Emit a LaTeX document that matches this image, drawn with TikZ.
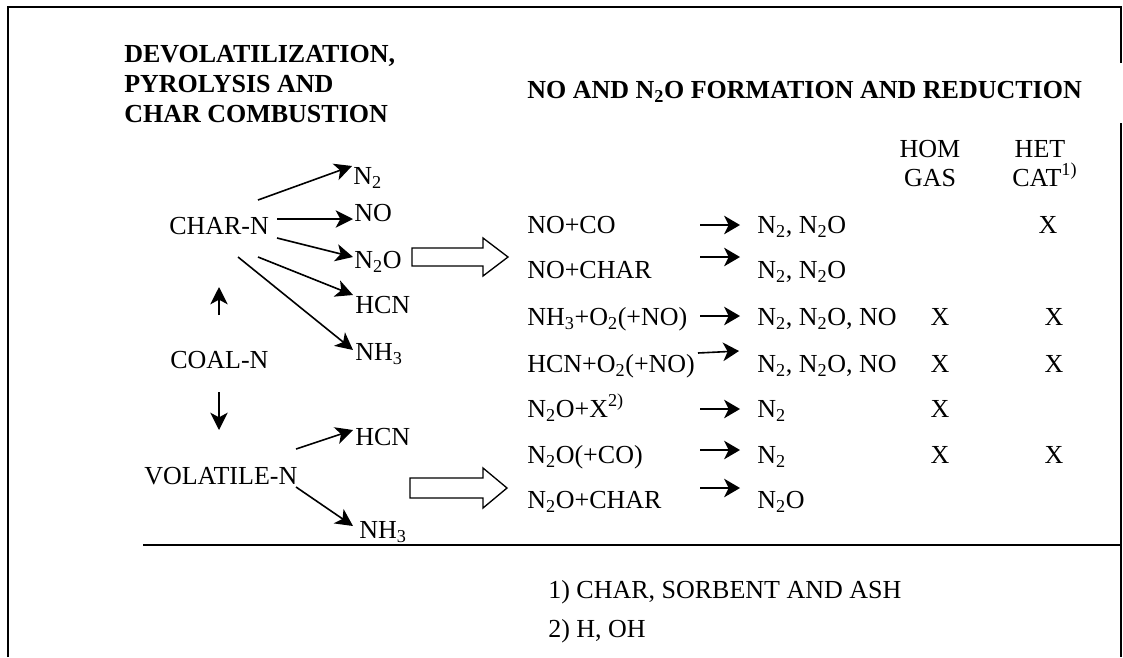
\documentclass[tikz,border=0pt]{standalone}
\usepackage{fontspec}
\setmainfont{Liberation Serif}
\usetikzlibrary{arrows.meta}
\begin{document}
\begin{tikzpicture}[x=0.75pt,y=-0.75pt,
  txt/.style={anchor=base west,inner sep=0pt,font=\fontsize{19.5}{23}\selectfont},
  ctxt/.style={txt,anchor=base},
  hd/.style={txt,font=\fontsize{19.5}{23}\selectfont\bfseries},
  frame/.style={line width=1.4pt},
  arr/.style={line width=1.2pt,-{Stealth[length=13pt,width=13pt,inset=3.5pt]}},
  rarr/.style={line width=1.2pt,-{Stealth[length=12pt,width=14pt,inset=3.5pt]}},
  hollow/.style={draw,line width=1pt,fill=white,line join=miter}]
\useasboundingbox (0,0) rectangle (1123,657);
% frame
\coordinate (f1) at (8,657); \coordinate (f2) at (8,7); \coordinate (f3) at (1121,7); \coordinate (f4) at (1121,63);
\coordinate (f5) at (1121,123); \coordinate (f6) at (1121,657);
\coordinate (h1) at (143,545); \coordinate (h2) at (1121,545);
\draw[frame] (f1) -- (f2) -- (f3) -- (f4);
\draw[frame] (f5) -- (f6);
\draw[frame] (h1) -- (h2);
% headings
\node[hd] (hd1) at (124,62) {DEVOLATILIZATION,};
\node[hd] (hd2) at (124,92) {PYROLYSIS AND};
\node[hd] (hd3) at (124,122) {CHAR COMBUSTION};
\node[hd] (hd4) at (527,98) {NO AND N\textsubscript{2}O FORMATION AND REDUCTION};
\node[ctxt] (hom) at (930,157) {HOM};
\node[ctxt] (gas) at (930,186) {GAS};
\node[ctxt] (het) at (1040,157) {HET};
\node[txt] (cat) at (1012,186) {CAT\textsuperscript{1)}};
% left diagram
\node[txt] (charn) at (169,234) {CHAR-N};
\node[txt] (cn2) at (353,184) {N\textsubscript{2}};
\node[txt] (cno) at (354,221) {NO};
\node[txt] (cn2o) at (354,268) {N\textsubscript{2}O};
\node[txt] (chcn) at (355,313) {HCN};
\node[txt] (cnh3) at (355,360) {NH\textsubscript{3}};
\node[txt] (coaln) at (170,368) {COAL-N};
\node[txt] (voln) at (144,484) {VOLATILE-N};
\node[txt] (vhcn) at (355,445) {HCN};
\node[txt] (vnh3) at (359,538) {NH\textsubscript{3}};
\coordinate (a1s) at (258,200); \coordinate (a1e) at (352,166);
\coordinate (a2s) at (277,219); \coordinate (a2e) at (353,219);
\coordinate (a3s) at (277,238); \coordinate (a3e) at (353,257);
\coordinate (a4s) at (258,257); \coordinate (a4e) at (353,295);
\coordinate (a5s) at (238,257); \coordinate (a5e) at (353,350);
\coordinate (u1s) at (219,315); \coordinate (u1e) at (219,287);
\coordinate (d1s) at (219,392); \coordinate (d1e) at (219,430);
\coordinate (v1s) at (296,449); \coordinate (v1e) at (353,430);
\coordinate (v2s) at (296,487); \coordinate (v2e) at (353,526);
\draw[arr] (a1s) -- (a1e);
\draw[arr] (a2s) -- (a2e);
\draw[arr] (a3s) -- (a3e);
\draw[arr] (a4s) -- (a4e);
\draw[arr] (a5s) -- (a5e);
\draw[arr] (u1s) -- (u1e);
\draw[arr] (d1s) -- (d1e);
\draw[arr] (v1s) -- (v1e);
\draw[arr] (v2s) -- (v2e);
% hollow arrows
\draw[hollow] (412,248) -- (483,248) -- (483,238) -- (508,257) -- (483,276) -- (483,266) -- (412,266) -- cycle;
\draw[hollow] (410,478) -- (483,478) -- (483,468) -- (507,488) -- (483,508) -- (483,498) -- (410,498) -- cycle;
% reactions
\node[txt] (r1) at (527,233) {NO+CO};
\node[txt] (p1) at (757,233) {N\textsubscript{2}, N\textsubscript{2}O};
\node[ctxt] (x1b) at (1048,233) {X};
\node[txt] (r2) at (527,278) {NO+CHAR};
\node[txt] (p2) at (757,278) {N\textsubscript{2}, N\textsubscript{2}O};
\node[txt] (r3) at (527,325) {NH\textsubscript{3}+O\textsubscript{2}(+NO)};
\node[txt] (p3) at (757,325) {N\textsubscript{2}, N\textsubscript{2}O, NO};
\node[ctxt] (x3a) at (940,325) {X};
\node[ctxt] (x3b) at (1054,325) {X};
\node[txt] (r4) at (527,372) {HCN+O\textsubscript{2}(+NO)};
\node[txt] (p4) at (757,372) {N\textsubscript{2}, N\textsubscript{2}O, NO};
\node[ctxt] (x4a) at (940,372) {X};
\node[ctxt] (x4b) at (1054,372) {X};
\node[txt] (r5) at (527,417) {N\textsubscript{2}O+X\textsuperscript{2)}};
\node[txt] (p5) at (757,417) {N\textsubscript{2}};
\node[ctxt] (x5a) at (940,417) {X};
\node[txt] (r6) at (527,463) {N\textsubscript{2}O(+CO)};
\node[txt] (p6) at (757,463) {N\textsubscript{2}};
\node[ctxt] (x6a) at (940,463) {X};
\node[ctxt] (x6b) at (1054,463) {X};
\node[txt] (r7) at (527,508) {N\textsubscript{2}O+CHAR};
\node[txt] (p7) at (757,508) {N\textsubscript{2}O};
\coordinate (b1s) at (700,225); \coordinate (b1e) at (740,225);
\coordinate (b2s) at (700,257); \coordinate (b2e) at (740,257);
\coordinate (b3s) at (700,316); \coordinate (b3e) at (740,316);
\coordinate (b4s) at (698,353); \coordinate (b4e) at (739,351);
\coordinate (b5s) at (700,409); \coordinate (b5e) at (740,409);
\coordinate (b6s) at (700,450); \coordinate (b6e) at (740,450);
\coordinate (b7s) at (700,488); \coordinate (b7e) at (740,488);
\draw[rarr] (b1s) -- (b1e);
\draw[rarr] (b2s) -- (b2e);
\draw[rarr] (b3s) -- (b3e);
\draw[rarr] (b4s) -- (b4e);
\draw[rarr] (b5s) -- (b5e);
\draw[rarr] (b6s) -- (b6e);
\draw[rarr] (b7s) -- (b7e);
% footnotes
\node[txt] (fn1) at (548,598) {1) CHAR, SORBENT AND ASH};
\node[txt] (fn2) at (548,637) {2) H, OH};
\end{tikzpicture}
\end{document}
